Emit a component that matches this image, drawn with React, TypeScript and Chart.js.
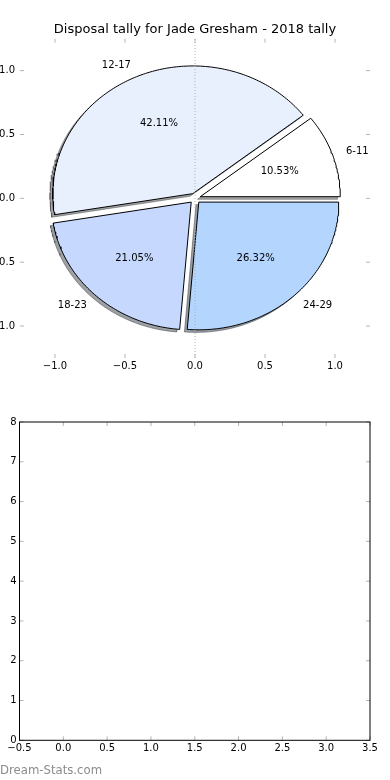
import React, { useEffect, useRef } from "react";
import { Chart, registerables } from "chart.js";

Chart.register(...registerables);

// ---------------- data ----------------
const TITLE = "Disposal tally for Jade Gresham - 2018 tally";
const CATEGORIES = ["6-11", "12-17", "18-23", "24-29"];
const COUNTS = [2, 8, 4, 5];
const SLICE_COLORS = ["#ffffff", "#e9f0fd", "#c6d8fe", "#b3d5fe"];
const EXPLODE = [0.04, 0.04, 0.04, 0.04];
const PIE_TICKS = [-1, -0.5, 0, 0.5, 1];
const PIE_LIMIT = 1.25;
const EMPTY_X_TICKS = [-0.5, 0, 0.5, 1, 1.5, 2, 2.5, 3, 3.5];
const EMPTY_Y_TICKS = [0, 1, 2, 3, 4, 5, 6, 7, 8];
const WATERMARK = "Dream-Stats.com";

// ---------------- helpers ----------------
const FONT = "'DejaVu Sans', sans-serif";
Chart.defaults.font.family = FONT;
Chart.defaults.color = "#000";

const TOTAL = COUNTS.reduce((a, b) => a + b, 0);

function fmt1(v: number) {
  return (v < 0 ? "\u2212" : "") + Math.abs(v).toFixed(1);
}
function fmt0(v: number) {
  return (v < 0 ? "\u2212" : "") + Math.abs(v).toFixed(0);
}

function sliceAngles(i: number) {
  let before = 0;
  for (let j = 0; j < i; j++) before += COUNTS[j];
  const a = (before / TOTAL) * Math.PI * 2;
  const b = ((before + COUNTS[i]) / TOTAL) * Math.PI * 2;
  return [a, b];
}

function sliceCenter(i: number) {
  const [a, b] = sliceAngles(i);
  const m = (a + b) / 2;
  return { x: EXPLODE[i] * Math.cos(m), y: EXPLODE[i] * Math.sin(m), m };
}

function wedgePoints(i: number, dx: number, dy: number) {
  const [a, b] = sliceAngles(i);
  const c = sliceCenter(i);
  const cx = c.x + dx;
  const cy = c.y + dy;
  const pts = [{ x: cx, y: cy }];
  const n = Math.max(4, Math.ceil(((b - a) * 180) / Math.PI));
  for (let k = 0; k <= n; k++) {
    const t = a + ((b - a) * k) / n;
    pts.push({ x: cx + Math.cos(t), y: cy + Math.sin(t) });
  }
  pts.push({ x: cx, y: cy });
  return pts;
}

function shadowColor(hex: string) {
  const r = parseInt(hex.slice(1, 3), 16);
  const g = parseInt(hex.slice(3, 5), 16);
  const b = parseInt(hex.slice(5, 7), 16);
  return `rgba(${Math.round(r * 0.3)},${Math.round(g * 0.3)},${Math.round(b * 0.3)},0.5)`;
}

// inward tick marks on all four sides (+ optional frame)
const axesDecor = {
  id: "axesDecor",
  afterDatasetsDraw(chart: any, _args: any, opts: any) {
    const { ctx, chartArea: a, scales } = chart;
    const xs = scales.x;
    const ys = scales.y;
    ctx.save();
    ctx.strokeStyle = "#b4b4b4";
    ctx.lineWidth = 1;
    const L = 4;
    ctx.beginPath();
    for (const t of xs.ticks) {
      const p = xs.getPixelForValue(t.value);
      ctx.moveTo(p, a.top);
      ctx.lineTo(p, a.top + L);
      ctx.moveTo(p, a.bottom);
      ctx.lineTo(p, a.bottom - L);
    }
    for (const t of ys.ticks) {
      const p = ys.getPixelForValue(t.value);
      ctx.moveTo(a.left, p);
      ctx.lineTo(a.left + L, p);
      ctx.moveTo(a.right, p);
      ctx.lineTo(a.right - L, p);
    }
    ctx.stroke();
    if (opts && opts.frame) {
      ctx.strokeStyle = "#000";
      ctx.lineWidth = 1;
      ctx.strokeRect(a.left, a.top, a.right - a.left, a.bottom - a.top);
    }
    ctx.restore();
  },
};

// slice labels and percentages
const pieText = {
  id: "pieText",
  afterDatasetsDraw(chart: any) {
    const { ctx, scales } = chart;
    const xs = scales.x;
    const ys = scales.y;
    ctx.save();
    ctx.font = `10px ${FONT}`;
    ctx.fillStyle = "#000";
    ctx.textBaseline = "middle";
    CATEGORIES.forEach((cat, i) => {
      const c = sliceCenter(i);
      const lx = c.x + 1.1 * Math.cos(c.m);
      const ly = c.y + 1.1 * Math.sin(c.m);
      ctx.textAlign = lx > 0 ? "left" : "right";
      ctx.fillText(cat, xs.getPixelForValue(lx), ys.getPixelForValue(ly));
      const px = c.x + 0.6 * Math.cos(c.m);
      const py = c.y + 0.6 * Math.sin(c.m);
      ctx.textAlign = "center";
      ctx.fillText(((COUNTS[i] / TOTAL) * 100).toFixed(2) + "%", xs.getPixelForValue(px), ys.getPixelForValue(py));
    });
    ctx.restore();
  },
};

function PieChart() {
  const ref = useRef<HTMLCanvasElement | null>(null);
  useEffect(() => {
    if (!ref.current) return;
    const wedges = CATEGORIES.map((cat, i) => ({
      label: cat,
      data: wedgePoints(i, 0, 0),
      borderColor: "#000",
      borderWidth: 1,
      backgroundColor: SLICE_COLORS[i],
      fill: "shape",
      pointRadius: 0,
      pointHoverRadius: 0,
      tension: 0,
      order: 1,
    }));
    const shadows = CATEGORIES.map((cat, i) => ({
      label: cat + " shadow",
      data: wedgePoints(i, -0.02, -0.02),
      borderColor: shadowColor(SLICE_COLORS[i]),
      borderWidth: 1,
      backgroundColor: shadowColor(SLICE_COLORS[i]),
      fill: "shape",
      pointRadius: 0,
      pointHoverRadius: 0,
      tension: 0,
      order: 2,
    }));
    const zeroLine = {
      label: "zero",
      data: [
        { x: 0, y: -PIE_LIMIT },
        { x: 0, y: PIE_LIMIT },
      ],
      borderColor: "#b0b0b0",
      borderWidth: 1,
      borderDash: [1, 2],
      fill: false,
      pointRadius: 0,
      pointHoverRadius: 0,
      order: 0,
    };
    const chart = new Chart(ref.current, {
      type: "line",
      data: { datasets: [...wedges, ...shadows, zeroLine] as any },
      options: {
        responsive: false,
        animation: false,
        events: [],
        layout: { padding: 0 },
        plugins: {
          legend: { display: false },
          tooltip: { enabled: false },
          title: {
            display: true,
            text: TITLE,
            color: "#000",
            font: { size: 13, weight: "normal", family: FONT },
            padding: { top: 22.2, bottom: 0.9 },
          },
          axesDecor: { frame: false },
        } as any,
        scales: {
          x: {
            type: "linear",
            min: -PIE_LIMIT,
            max: PIE_LIMIT,
            afterBuildTicks: (s: any) => {
              s.ticks = PIE_TICKS.map((v) => ({ value: v }));
            },
            afterFit: (s: any) => {
              s.height = 32;
            },
            ticks: {
              callback: (v: any) => fmt1(Number(v)),
              padding: 2,
              font: { size: 10 },
              color: "#000",
              maxRotation: 0,
              autoSkip: false,
            },
            grid: { display: false, drawTicks: false },
            border: { display: false },
          },
          y: {
            type: "linear",
            min: -PIE_LIMIT,
            max: PIE_LIMIT,
            afterBuildTicks: (s: any) => {
              s.ticks = PIE_TICKS.map((v) => ({ value: v }));
            },
            afterFit: (s: any) => {
              s.width = 20;
            },
            ticks: {
              callback: (v: any) => fmt1(Number(v)),
              padding: 5,
              font: { size: 10 },
              color: "#000",
              autoSkip: false,
            },
            grid: { display: false, drawTicks: false },
            border: { display: false },
          },
          y2: {
            type: "linear",
            position: "right",
            min: 0,
            max: 1,
            afterFit: (s: any) => {
              s.width = 20;
            },
            ticks: { display: false },
            grid: { display: false, drawTicks: false },
            border: { display: false },
          },
        } as any,
      },
      plugins: [axesDecor, pieText],
    });
    return () => chart.destroy();
  }, []);
  return <canvas ref={ref} width={390} height={390} style={{ display: "block" }} />;
}

function EmptyChart() {
  const ref = useRef<HTMLCanvasElement | null>(null);
  useEffect(() => {
    if (!ref.current) return;
    const chart = new Chart(ref.current, {
      type: "line",
      data: { datasets: [] },
      options: {
        responsive: false,
        animation: false,
        events: [],
        layout: { padding: { top: 32, left: 0, right: 0, bottom: 0 } },
        plugins: {
          legend: { display: false },
          tooltip: { enabled: false },
          title: { display: false },
          axesDecor: { frame: true },
        } as any,
        scales: {
          x: {
            type: "linear",
            min: EMPTY_X_TICKS[0],
            max: EMPTY_X_TICKS[EMPTY_X_TICKS.length - 1],
            afterBuildTicks: (s: any) => {
              s.ticks = EMPTY_X_TICKS.map((v) => ({ value: v }));
            },
            afterFit: (s: any) => {
              s.height = 39.7;
            },
            ticks: {
              callback: (v: any) => fmt1(Number(v)),
              padding: 2,
              font: { size: 10 },
              color: "#000",
              maxRotation: 0,
              autoSkip: false,
            },
            grid: { display: false, drawTicks: false },
            border: { display: false },
          },
          y: {
            type: "linear",
            min: EMPTY_Y_TICKS[0],
            max: EMPTY_Y_TICKS[EMPTY_Y_TICKS.length - 1],
            afterBuildTicks: (s: any) => {
              s.ticks = EMPTY_Y_TICKS.map((v) => ({ value: v }));
            },
            afterFit: (s: any) => {
              s.width = 19.5;
            },
            ticks: {
              callback: (v: any) => fmt0(Number(v)),
              padding: 3,
              font: { size: 10 },
              color: "#000",
              autoSkip: false,
            },
            grid: { display: false, drawTicks: false },
            border: { display: false },
          },
          y2: {
            type: "linear",
            position: "right",
            min: 0,
            max: 1,
            afterFit: (s: any) => {
              s.width = 20;
            },
            ticks: { display: false },
            grid: { display: false, drawTicks: false },
            border: { display: false },
          },
        } as any,
      },
      plugins: [axesDecor],
    });
    return () => chart.destroy();
  }, []);
  return <canvas ref={ref} width={390} height={390} style={{ display: "block" }} />;
}

export default function App() {
  return (
    <div style={{ position: "absolute", left: 0, top: 0, width: 390, height: 780, background: "#fff", overflow: "hidden" }}>
      <div style={{ position: "absolute", left: 0, top: 0 }}>
        <PieChart />
      </div>
      <div style={{ position: "absolute", left: 0, top: 390 }}>
        <EmptyChart />
      </div>
      <div
        style={{
          position: "absolute",
          left: 0,
          top: 763,
          font: "11.7px 'DejaVu Sans', sans-serif",
          lineHeight: "14px",
          color: "#8c8c8c",
          whiteSpace: "nowrap",
        }}
      >
        {WATERMARK}
      </div>
    </div>
  );
}
